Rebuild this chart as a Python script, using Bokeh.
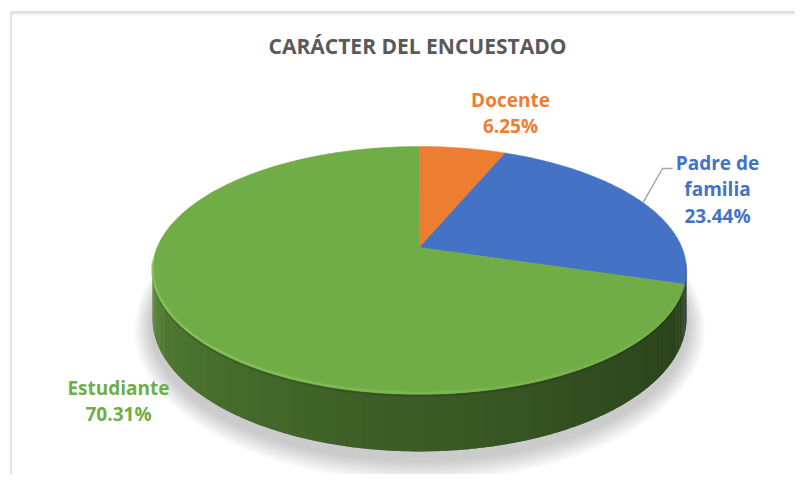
import numpy as np
from bokeh.plotting import figure
from bokeh.models import Range1d
from bokeh.core.properties import value
from bokeh.embed import file_html
from bokeh.resources import INLINE

# ---------------- data ----------------
title_text = "CARÁCTER DEL ENCUESTADO"
categories = ["Docente", "Padre de familia", "Estudiante"]
label_lines = [["Docente"], ["Padre de", "familia"], ["Estudiante"]]
percent = [6.25, 23.44, 70.31]
colors = ["#ED7D31", "#4472C4", "#70AD47"]

# ---------------- geometry (pixel space of the page) ----------------
CX, CY = 419.0, 247.0
RX, RY = 262.4, 119.7
T = 0.185          # perspective factor
H = 46.5           # thickness
FONT = "Open Sans"


def proj(theta_deg, drop=0.0, grow=0.0):
    th = np.radians(theta_deg)
    u, v = np.cos(th), np.sin(th)
    s = 1.0 / (1.0 + T * v)
    return CX + (RX + grow) * u * s, CY - (RY + grow) * v * s + drop * s


def hexcol(rgb, f):
    r, g, b = [int(rgb[i:i + 2], 16) for i in (1, 3, 5)]
    return "#%02x%02x%02x" % (int(r * f), int(g * f), int(b * f))


p = figure(width=795, height=474, output_backend="svg", toolbar_location=None,
           x_range=Range1d(0, 795), y_range=Range1d(474, 0),
           x_axis_type=None, y_axis_type=None, min_border=0)
p.grid.visible = False
p.outline_line_color = None
p.background_fill_color = "white"
p.border_fill_color = "white"

# chart frame (cropped Excel chart area)
for i, a in enumerate([0.10, 0.06, 0.03]):
    p.line([10.5, 811], [12.5 + i, 12.5 + i], line_color="black", line_alpha=a, line_width=1)
p.line([10.5, 10.5, 811], [490, 11.5, 11.5], line_color="#d9d9d9", line_width=1.5)

# angles of slices (clockwise from top)
cum = np.concatenate([[0.0], np.cumsum(percent)])
starts = 90.0 - 360.0 * cum[:-1] / 100.0
ends = 90.0 - 360.0 * cum[1:] / 100.0

# ---- soft shadow below the pie ----
full = np.linspace(0, 360, 181)
for k in range(9):
    g = 2.0 + k * 2.0
    sx, sy = proj(full, drop=H + 4, grow=g)
    p.patch(list(sx), list(sy + 3), fill_color="black", fill_alpha=0.022, line_color=None)

# ---- side wall ----
th_l = -180.0 + np.degrees(np.arcsin(T))   # left silhouette  (~-169.3)
th_r = -np.degrees(np.arcsin(T))            # right silhouette (~-10.7)
wall_xs, wall_ys, wall_cols = [], [], []
for c, a0, a1 in zip(colors, starts, ends):
    lo, hi = max(a1, th_l), min(a0, th_r)
    if hi <= lo:
        continue
    n = max(2, int((hi - lo) / 0.6))
    ths = np.linspace(lo, hi, n + 1)
    for i in range(n):
        t0, t1 = ths[i], min(ths[i + 1] + 0.35, hi)
        x0, y0 = proj(t0)
        x1, y1 = proj(t1)
        x2, y2 = proj(t1, drop=H)
        x3, y3 = proj(t0, drop=H)
        phi = ((t0 + t1) / 2 - th_l) / (th_r - th_l)
        f = 0.80 - 0.44 * phi ** 0.7
        wall_xs.append([x0, x1, x2, x3])
        wall_ys.append([y0, y1, y2, y3])
        wall_cols.append(hexcol(c, f))
p.patches(wall_xs, wall_ys, fill_color=wall_cols, line_color=None)

# ---- top face ----
for c, a0, a1 in zip(colors, starts, ends):
    ths = np.linspace(a0, a1, max(3, int(abs(a0 - a1) / 1.0)))
    ax, ay = proj(ths)
    xs = [CX] + list(ax)
    ys = [CY] + list(ay)
    p.patch(xs, ys, fill_color=c, line_color=c, line_width=0.5)

# bevel highlight along the front rim
hl = np.linspace(th_l - 4, th_r + 4, 120)
hx, hy = proj(hl)
for i in range(len(hl) - 1):
    phi = (hl[i] - th_l) / (th_r - th_l)
    a = max(0.0, 0.7 - 0.7 * phi)
    p.line([hx[i], hx[i + 1]], [hy[i] - 1.5, hy[i + 1] - 1.5], line_color="#8fd062",
           line_alpha=a, line_width=2.5)
    p.line([hx[i], hx[i + 1]], [hy[i] + 1.5, hy[i + 1] + 1.5], line_color="black",
           line_alpha=0.12, line_width=2)

# ---- title ----
p.text(x=[417], y=[45], text=[title_text], text_align="center", text_baseline="middle",
       text_font=value(FONT), text_font_size="21px", text_font_style="bold",
       text_color="#595959")

# ---- data labels ----
label_pos = [(510, 99), (717, 162), (118, 387)]
for (lx, ly), lines, pc, c in zip(label_pos, label_lines, percent, colors):
    texts = lines + ["%.2f%%" % pc]
    ys = [ly + 26.5 * i for i in range(len(texts))]
    p.text(x=[lx] * len(texts), y=ys, text=texts, text_align="center",
           text_baseline="middle", text_font=value(FONT), text_font_size="19px",
           text_font_style="bold", text_color=c)

# leader line for "Padre de familia"
mid = (starts[1] + ends[1]) / 2
ex, ey = proj(mid)
p.line([ex + 4, 662, 672], [ey + 2, 168, 168], line_color="#a6a6a6", line_width=1.5)

open("out.html", "w").write(file_html(p, INLINE))
